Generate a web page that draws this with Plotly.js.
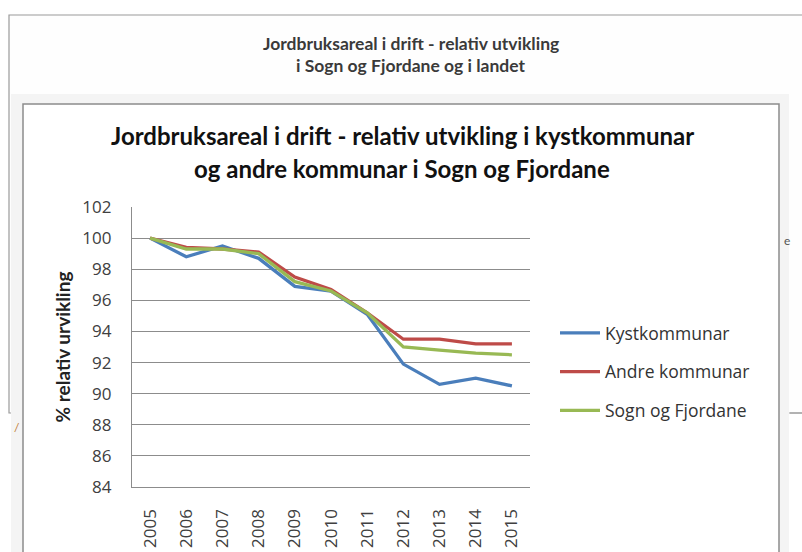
<!DOCTYPE html>
<html>
<head>
<meta charset="utf-8">
<script src="https://cdn.plot.ly/plotly-3.0.1.min.js"></script>
<style>html,body{margin:0;padding:0;background:#fff;}#chart{width:802px;height:552px;}</style>
</head>
<body>
<div id="chart"></div>
<script>
// ---- data ----
const years = ["2005","2006","2007","2008","2009","2010","2011","2012","2013","2014","2015"];
const kystkommunar = [100, 98.8, 99.5, 98.7, 96.9, 96.6, 95.1, 91.9, 90.6, 91.0, 90.5];
const andreKommunar = [100, 99.4, 99.3, 99.1, 97.5, 96.7, 95.2, 93.5, 93.5, 93.2, 93.2];
const sognOgFjordane = [100, 99.3, 99.3, 99.0, 97.2, 96.6, 95.2, 93.0, 92.8, 92.6, 92.5];
const seriesNames = ["Kystkommunar", "Andre kommunar", "Sogn og Fjordane"];
const yTicks = [84, 86, 88, 90, 92, 94, 96, 98, 100, 102];

const W = 802, H = 552;
const margin = {l:132, r:272, t:207, b:65};
const pw = W - margin.l - margin.r, ph = H - margin.t - margin.b;
// pixel -> plot-domain paper coordinates (for decoration only)
const fx = X => (X - margin.l) / pw;
const fy = Y => (H - margin.b - Y) / ph;

const colors = ["#4a7ebb", "#be4b48", "#98b954"];
const vals = [kystkommunar, andreKommunar, sognOgFjordane];

const traces = vals.map((v, i) => ({
  type: "scatter",
  mode: "lines",
  x: years,
  y: v,
  name: seriesNames[i],
  legendgroup: "g" + i,
  line: {color: colors[i], width: 3.3},
  hoverinfo: "x+y+name"
}));

function rect(x0, y0, x1, y1, fill, lineColor, lw) {
  return {type:"rect", xref:"paper", yref:"paper", layer:"below",
    x0:fx(x0), x1:fx(x1), y0:fy(y1), y1:fy(y0),
    line: lineColor ? {color:lineColor, width:lw} : {width:0}, fillcolor: fill};
}
const shapes = [
  rect(9, 15, 803, 413, "#fefefe", "#9a9a9a", 1.2),
  rect(11, 94, 789, 560, "#f4f4f4", null, 0),
  rect(23, 104, 779, 570, "#ffffff", "#8c8c8c", 1.5),
  {type:"line", xref:"paper", yref:"paper", layer:"below",
   x0:fx(790), x1:fx(802), y0:fy(413), y1:fy(413),
   line:{color:"#a0a0a0", width:1.2}}
];

const titleFont = "Lato, 'Liberation Sans', sans-serif";
const annotations = [
  {text:"<b>Jordbruksareal i drift - relativ utvikling</b>", x:fx(411), y:fy(43),
   xref:"paper", yref:"paper", showarrow:false, xanchor:"center", yanchor:"middle",
   font:{family:titleFont, size:17.5, color:"#3a3a3a"}},
  {text:"<b>i Sogn og Fjordane og i landet</b>", x:fx(411), y:fy(65),
   xref:"paper", yref:"paper", showarrow:false, xanchor:"center", yanchor:"middle",
   font:{family:titleFont, size:17.5, color:"#3a3a3a"}},
  {text:"<b>Jordbruksareal i drift - relativ utvikling i kystkommunar</b>", x:fx(402), y:fy(135),
   xref:"paper", yref:"paper", showarrow:false, xanchor:"center", yanchor:"middle",
   font:{family:titleFont, size:24, color:"#111111"}},
  {text:"<b>og andre kommunar i Sogn og Fjordane</b>", x:fx(402), y:fy(168),
   xref:"paper", yref:"paper", showarrow:false, xanchor:"center", yanchor:"middle",
   font:{family:titleFont, size:24, color:"#111111"}},
  {text:"e", x:fx(792), y:fy(231), xref:"paper", yref:"paper", showarrow:false,
   font:{family:"Lato, sans-serif", size:12, color:"#555555"}},
  {text:"/", x:fx(12), y:fy(437), xref:"paper", yref:"paper", showarrow:false,
   font:{family:"Lato, sans-serif", size:12, color:"#c07a30"}}
];

const layout = {
  width: W, height: H,
  margin: margin,
  paper_bgcolor: "#ffffff",
  plot_bgcolor: "rgba(0,0,0,0)",
  showlegend: true,
  legend: {
    x: fx(555), y: fy(315), xanchor: "left", yanchor: "top",
    font: {family:"'Open Sans', sans-serif", size:17.5, color:"#333333"},
    tracegroupgap: 13, itemwidth: 40, bgcolor:"rgba(0,0,0,0)"
  },
  xaxis: {
    type: "category",
    range: [-0.5, 10.5],
    showgrid: false, zeroline: false,
    showline: true, linecolor: "#8c8c8c", linewidth: 1.2,
    ticks: "outside", ticklen: 14, tickcolor: "rgba(0,0,0,0)",
    tickangle: -90,
    tickfont: {family:"'Open Sans', sans-serif", size:17, color:"#404040"},
    fixedrange: true
  },
  yaxis: {
    range: [84, 102],
    tickvals: yTicks,
    showgrid: true, gridcolor: "#8c8c8c", gridwidth: 1.2,
    zeroline: false,
    showline: true, linecolor: "#8c8c8c", linewidth: 1.2,
    ticks: "outside", ticklen: 16, tickcolor: "rgba(0,0,0,0)",
    tickfont: {family:"'Open Sans', sans-serif", size:17, color:"#404040"},
    title: {text: "<b>% relativ urvikling</b>", standoff: 6,
            font: {family:titleFont, size:19, color:"#222222"}},
    fixedrange: true
  },
  shapes: shapes,
  annotations: annotations
};

Plotly.newPlot("chart", traces, layout, {displayModeBar: false, staticPlot: true});
</script>
</body>
</html>
